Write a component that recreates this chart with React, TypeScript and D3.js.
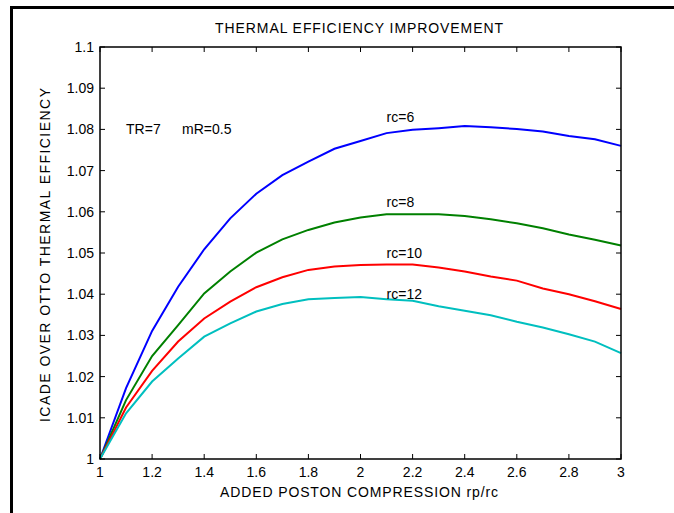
import * as d3 from 'd3';
import React from 'react';

// x samples: rp/rc ratio
const xValues = [1, 1.1, 1.2, 1.3, 1.4, 1.5, 1.6, 1.7, 1.8, 1.9, 2, 2.1, 2.2, 2.3, 2.4, 2.5, 2.6, 2.7, 2.8, 2.9, 3];

const rc6 = [1, 1.0172, 1.0311, 1.0418, 1.0509, 1.0584, 1.0644, 1.0689, 1.0722, 1.0753, 1.0772, 1.0791, 1.0799, 1.0803, 1.0808, 1.0805, 1.0801, 1.0795, 1.0784, 1.0776, 1.076];
const rc8 = [1, 1.0143, 1.025, 1.0325, 1.0402, 1.0455, 1.0501, 1.0533, 1.0556, 1.0574, 1.0586, 1.0594, 1.0594, 1.0594, 1.059, 1.0582, 1.0572, 1.056, 1.0545, 1.0532, 1.0518];
const rc10 = [1, 1.0125, 1.0214, 1.0285, 1.0341, 1.0382, 1.0417, 1.0441, 1.0459, 1.0467, 1.0471, 1.0472, 1.0472, 1.0465, 1.0455, 1.0443, 1.0433, 1.0414, 1.04, 1.0383, 1.0364];
const rc12 = [1, 1.0111, 1.0188, 1.0244, 1.0297, 1.0329, 1.0358, 1.0376, 1.0388, 1.0391, 1.0393, 1.0388, 1.0384, 1.0371, 1.036, 1.0349, 1.0333, 1.0319, 1.0303, 1.0285, 1.0257];

const seriesNames = ['rc=6', 'rc=8', 'rc=10', 'rc=12'];
const seriesColors = ['#0000ff', '#008000', '#ff0000', '#00bfbf'];
// label anchors in data units
const labelAt = [
  { x: 2.1, y: 1.0817 },
  { x: 2.1, y: 1.0612 },
  { x: 2.1, y: 1.0488 },
  { x: 2.1, y: 1.0389 },
];
const noteParts = [
  { text: 'TR=7', x: 1.1, y: 1.0789 },
  { text: 'mR=0.5', x: 1.315, y: 1.0789 },
];

const xTicks = [1, 1.2, 1.4, 1.6, 1.8, 2, 2.2, 2.4, 2.6, 2.8, 3];
const yTicks = [1, 1.01, 1.02, 1.03, 1.04, 1.05, 1.06, 1.07, 1.08, 1.09, 1.1];

const W = 674;
const H = 513;
const margin = { top: 47, right: 53, bottom: 54, left: 100 };
const font = '"Liberation Sans", Arial, sans-serif';
const fs = 14;

const App: React.FC = () => {
  const plotW = W - margin.left - margin.right;
  const plotH = H - margin.top - margin.bottom;

  const x = d3.scaleLinear().domain([1, 3]).range([0, plotW]);
  const y = d3.scaleLinear().domain([1, 1.1]).range([plotH, 0]);

  const line = d3
    .line<number>()
    .x((_, i) => x(xValues[i]))
    .y((d) => y(d));

  const allSeries = [rc6, rc8, rc10, rc12];
  const tick = 5;

  return (
    <svg width={W} height={H} style={{ position: 'absolute', left: 0, top: 0, background: '#fff' }}>
      <rect x={0} y={0} width={W} height={H} fill="#fff" />
      {/* outer frame */}
      <line x1={11.5} y1={6} x2={11.5} y2={H} stroke="#000" strokeWidth={3} />
      <line x1={10} y1={7.5} x2={W} y2={7.5} stroke="#000" strokeWidth={3} />

      <text x={359} y={33} textAnchor="middle" fontFamily={font} fontSize={fs} textLength={288} lengthAdjust="spacing">
        THERMAL EFFICIENCY IMPROVEMENT
      </text>

      <g transform={`translate(${margin.left},${margin.top})`}>
        {allSeries.map((s, i) => (
          <path key={seriesNames[i]} d={line(s) ?? ''} fill="none" stroke={seriesColors[i]} strokeWidth={2} />
        ))}

        <rect x={0} y={0} width={plotW} height={plotH} fill="none" stroke="#000" strokeWidth={1.5} />

        {xTicks.map((t) => (
          <g key={'x' + t}>
            <line x1={x(t)} x2={x(t)} y1={plotH} y2={plotH - tick} stroke="#000" />
            <line x1={x(t)} x2={x(t)} y1={0} y2={tick} stroke="#000" />
            <text x={x(t)} y={plotH + 18} textAnchor="middle" fontFamily={font} fontSize={fs}>
              {d3.format('~g')(t)}
            </text>
          </g>
        ))}
        {yTicks.map((t) => (
          <g key={'y' + t}>
            <line x1={0} x2={tick} y1={y(t)} y2={y(t)} stroke="#000" />
            <line x1={plotW} x2={plotW - tick} y1={y(t)} y2={y(t)} stroke="#000" />
            <text x={-6} y={y(t) + 5} textAnchor="end" fontFamily={font} fontSize={fs}>
              {d3.format('~g')(t)}
            </text>
          </g>
        ))}

        {seriesNames.map((n, i) => (
          <text key={'l' + n} x={x(labelAt[i].x)} y={y(labelAt[i].y)} fontFamily={font} fontSize={fs}>
            {n}
          </text>
        ))}

        {noteParts.map((p) => (
          <text key={p.text} x={x(p.x)} y={y(p.y)} fontFamily={font} fontSize={fs}>
            {p.text}
          </text>
        ))}
      </g>

      <text x={359} y={497} textAnchor="middle" fontFamily={font} fontSize={fs} textLength={278} lengthAdjust="spacing">
        ADDED POSTON COMPRESSION rp/rc
      </text>
      <text
        transform={`translate(50,255) rotate(-90)`}
        textAnchor="middle"
        fontFamily={font}
        fontSize={fs}
        textLength={334}
        lengthAdjust="spacing"
      >
        ICADE OVER OTTO THERMAL EFFICIENCY
      </text>
    </svg>
  );
};

export default App;
